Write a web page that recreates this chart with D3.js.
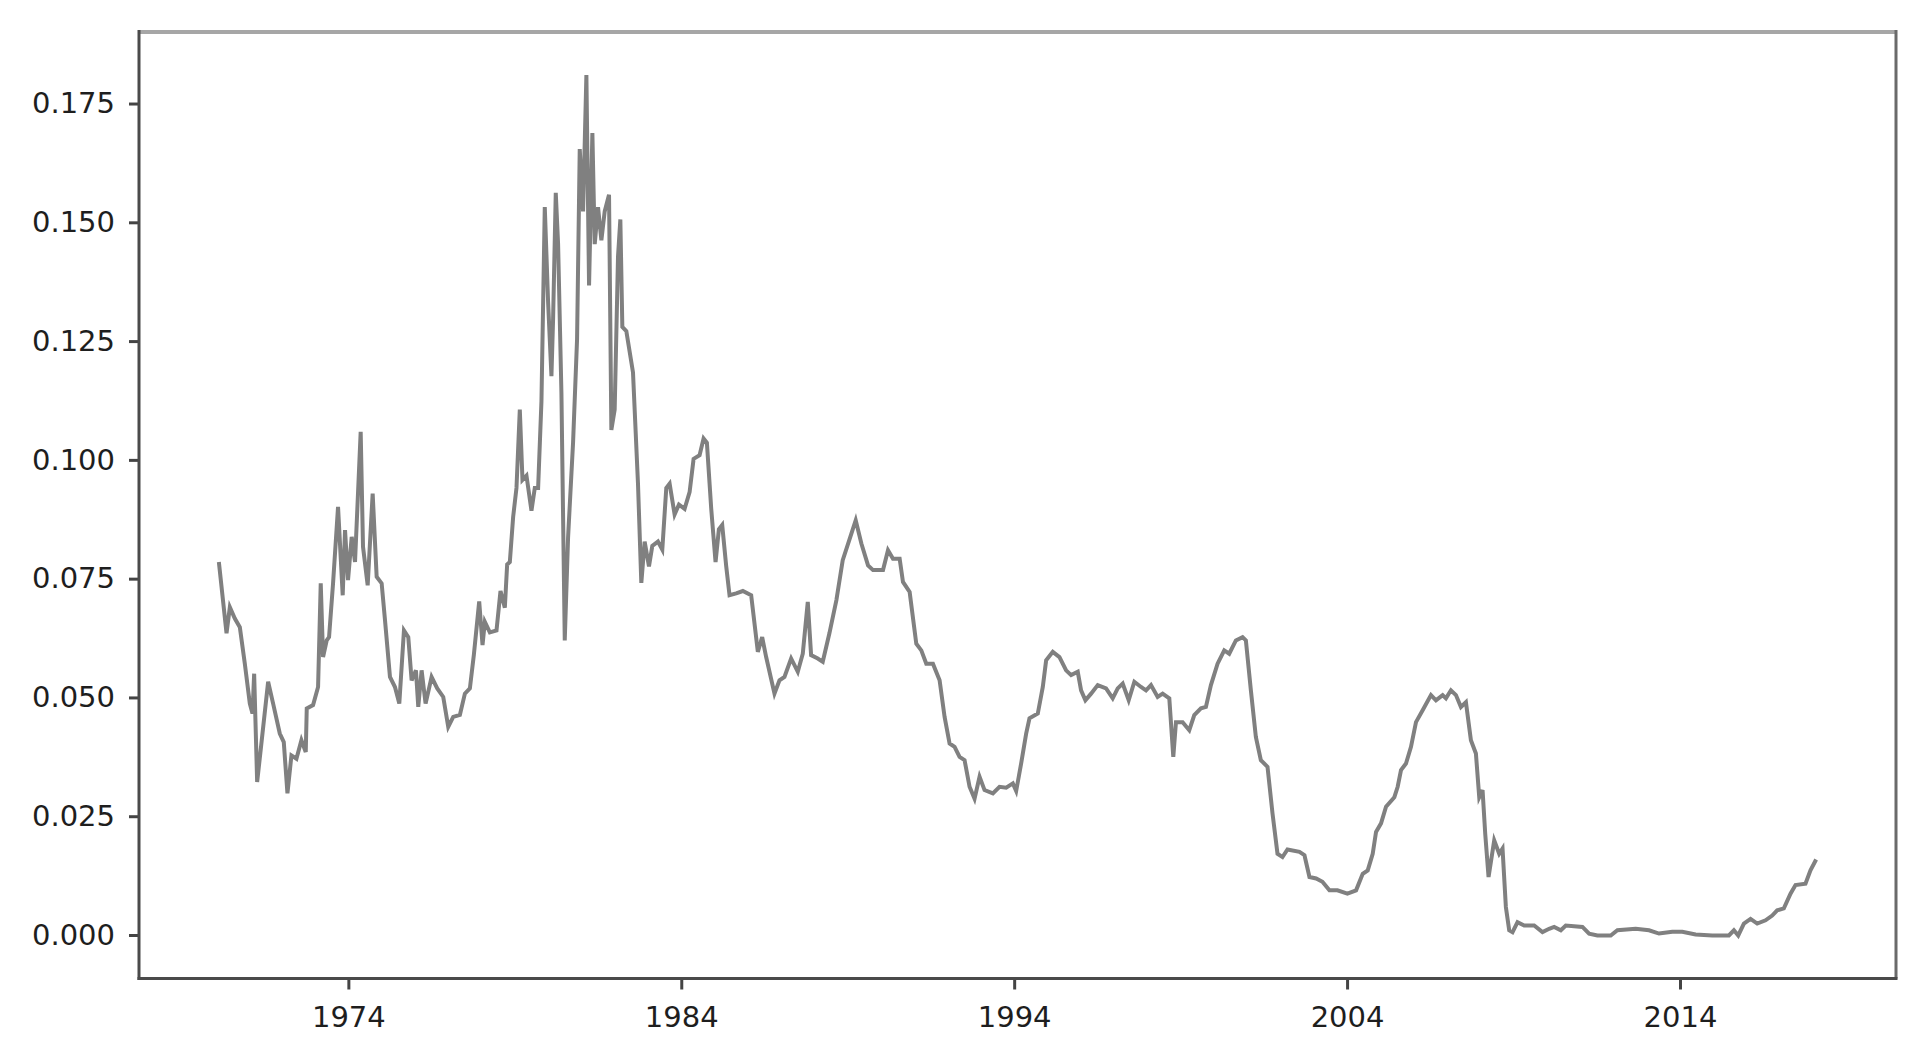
<!DOCTYPE html>
<html lang="en">
<head>
<meta charset="utf-8">
<title>Rate history</title>
<script src="https://d3js.org/d3.v7.min.js"></script>
<style>
    body { margin: 0; background: #fff; }
    svg { display: block; }
    .tick text { font-family: "DejaVu Sans", sans-serif; font-size: 29px; fill: #1e1e1e; }
    .tick line { stroke: #444; stroke-width: 3px; }
    .domain { display: none; }
</style>
</head>
<body>
<svg></svg>
<script>
// decimal year of each reading
var years = [
    1970.11, 1970.34, 1970.44, 1970.59, 1970.74, 1970.89, 1971.04, 1971.12, 1971.17, 1971.26,
    1971.37, 1971.59, 1971.74, 1971.94, 1972.06, 1972.17, 1972.29, 1972.44, 1972.59, 1972.72,
    1972.75, 1972.94, 1973.09, 1973.17, 1973.24, 1973.35, 1973.42, 1973.54, 1973.69, 1973.83,
    1973.90, 1973.99, 1974.10, 1974.20, 1974.37, 1974.44, 1974.58, 1974.73, 1974.85, 1975.00,
    1975.10, 1975.25, 1975.40, 1975.53, 1975.67, 1975.80, 1975.90, 1976.03, 1976.10, 1976.20,
    1976.32, 1976.50, 1976.67, 1976.85, 1977.00, 1977.15, 1977.35, 1977.50, 1977.65, 1977.77,
    1977.93, 1978.03, 1978.10, 1978.25, 1978.45, 1978.57, 1978.70, 1978.77, 1978.85, 1978.95,
    1979.05, 1979.15, 1979.23, 1979.35, 1979.50, 1979.60, 1979.70, 1979.80, 1979.90, 1980.00,
    1980.10, 1980.15, 1980.23, 1980.30, 1980.40, 1980.50, 1980.60, 1980.75, 1980.87, 1980.95,
    1981.05, 1981.15, 1981.23, 1981.33, 1981.40, 1981.50, 1981.60, 1981.70, 1981.83, 1981.90,
    1982.00, 1982.10, 1982.17, 1982.23, 1982.35, 1982.55, 1982.70, 1982.80, 1982.90, 1983.03,
    1983.13, 1983.30, 1983.43, 1983.55, 1983.65, 1983.80, 1983.93, 1984.10, 1984.25, 1984.37,
    1984.55, 1984.67, 1984.77, 1984.90, 1985.03, 1985.13, 1985.23, 1985.35, 1985.45, 1985.65,
    1985.85, 1986.10, 1986.30, 1986.43, 1986.55, 1986.80, 1986.95, 1987.10, 1987.30, 1987.50,
    1987.65, 1987.80, 1987.90, 1988.10, 1988.25, 1988.45, 1988.66, 1988.85, 1989.11, 1989.24,
    1989.41, 1989.61, 1989.76, 1990.06, 1990.21, 1990.36, 1990.56, 1990.66, 1990.86, 1991.06,
    1991.21, 1991.36, 1991.56, 1991.76, 1991.91, 1992.06, 1992.21, 1992.36, 1992.51, 1992.66,
    1992.81, 1992.96, 1993.11, 1993.36, 1993.56, 1993.76, 1993.96, 1994.06, 1994.21, 1994.36,
    1994.46, 1994.71, 1994.86, 1994.96, 1995.16, 1995.36, 1995.56, 1995.71, 1995.91, 1996.01,
    1996.14, 1996.31, 1996.51, 1996.76, 1996.96, 1997.11, 1997.26, 1997.44, 1997.61, 1997.81,
    1997.96, 1998.11, 1998.31, 1998.46, 1998.66, 1998.78, 1998.86, 1999.06, 1999.26, 1999.41,
    1999.61, 1999.76, 1999.91, 2000.11, 2000.31, 2000.46, 2000.66, 2000.86, 2000.96, 2001.11,
    2001.26, 2001.41, 2001.61, 2001.76, 2001.91, 2002.06, 2002.21, 2002.57, 2002.72, 2002.87,
    2003.07, 2003.26, 2003.47, 2003.71, 2004.01, 2004.27, 2004.47, 2004.62, 2004.77, 2004.87,
    2005.02, 2005.17, 2005.42, 2005.52, 2005.62, 2005.77, 2005.92, 2006.07, 2006.27, 2006.52,
    2006.67, 2006.87, 2006.97, 2007.12, 2007.27, 2007.42, 2007.57, 2007.72, 2007.87, 2007.97,
    2008.07, 2008.15, 2008.25, 2008.42, 2008.57, 2008.67, 2008.77, 2008.87, 2008.97, 2009.12,
    2009.32, 2009.62, 2009.87, 2010.07, 2010.22, 2010.42, 2010.57, 2011.07, 2011.27, 2011.52,
    2011.92, 2012.12, 2012.67, 2013.07, 2013.37, 2013.77, 2014.07, 2014.47, 2014.97, 2015.47,
    2015.62, 2015.75, 2015.92, 2016.12, 2016.32, 2016.57, 2016.77, 2016.92, 2017.12, 2017.32,
    2017.47, 2017.77, 2017.92, 2018.09
];
var rates = [
    0.0785, 0.0635, 0.0690, 0.0666, 0.0648, 0.0571, 0.0487, 0.0466, 0.0550, 0.0322,
    0.0392, 0.0533, 0.0487, 0.0424, 0.0406, 0.0298, 0.0378, 0.0371, 0.0410, 0.0385,
    0.0477, 0.0484, 0.0522, 0.0740, 0.0585, 0.0620, 0.0627, 0.0740, 0.0901, 0.0715,
    0.0852, 0.0747, 0.0838, 0.0785, 0.1059, 0.0817, 0.0736, 0.0929, 0.0754, 0.0740,
    0.0663, 0.0543, 0.0522, 0.0487, 0.0641, 0.0627, 0.0536, 0.0557, 0.0480, 0.0557,
    0.0487, 0.0543, 0.0519, 0.0501, 0.0438, 0.0459, 0.0463, 0.0508, 0.0519, 0.0590,
    0.0702, 0.0610, 0.0659, 0.0637, 0.0641, 0.0724, 0.0689, 0.0780, 0.0785, 0.0880,
    0.0941, 0.1106, 0.0958, 0.0967, 0.0893, 0.0941, 0.0941, 0.1123, 0.1532, 0.1332,
    0.1176, 0.1297, 0.1562, 0.1454, 0.1141, 0.0620, 0.0837, 0.1037, 0.1254, 0.1654,
    0.1523, 0.1810, 0.1367, 0.1688, 0.1454, 0.1532, 0.1462, 0.1523, 0.1558, 0.1063,
    0.1106, 0.1428, 0.1506, 0.1280, 0.1271, 0.1184, 0.0950, 0.0741, 0.0828, 0.0776,
    0.0819, 0.0828, 0.0811, 0.0941, 0.0950, 0.0885, 0.0906, 0.0897, 0.0932, 0.1002,
    0.1010, 0.1045, 0.1036, 0.0897, 0.0785, 0.0854, 0.0863, 0.0776, 0.0715, 0.0719,
    0.0724, 0.0715, 0.0596, 0.0627, 0.0585, 0.0508, 0.0536, 0.0543, 0.0582, 0.0554,
    0.0592, 0.0701, 0.0589, 0.0582, 0.0575, 0.0635, 0.0705, 0.0789, 0.0845, 0.0873,
    0.0824, 0.0778, 0.0768, 0.0768, 0.0810, 0.0792, 0.0792, 0.0743, 0.0722, 0.0613,
    0.0599, 0.0571, 0.0571, 0.0536, 0.0459, 0.0403, 0.0396, 0.0375, 0.0368, 0.0312,
    0.0287, 0.0333, 0.0305, 0.0298, 0.0312, 0.0310, 0.0319, 0.0303, 0.0361, 0.0424,
    0.0456, 0.0466, 0.0522, 0.0578, 0.0596, 0.0585, 0.0557, 0.0547, 0.0554, 0.0515,
    0.0494, 0.0508, 0.0526, 0.0519, 0.0498, 0.0519, 0.0529, 0.0494, 0.0533, 0.0522,
    0.0515, 0.0526, 0.0501, 0.0508, 0.0498, 0.0375, 0.0448, 0.0448, 0.0431, 0.0463,
    0.0477, 0.0480, 0.0526, 0.0571, 0.0599, 0.0592, 0.0620, 0.0627, 0.0620, 0.0515,
    0.0417, 0.0368, 0.0354, 0.0256, 0.0171, 0.0164, 0.0180, 0.0175, 0.0168, 0.0122,
    0.0119, 0.0112, 0.0094, 0.0094, 0.0087, 0.0094, 0.0129, 0.0136, 0.0171, 0.0217,
    0.0235, 0.0270, 0.0290, 0.0312, 0.0347, 0.0361, 0.0396, 0.0448, 0.0473, 0.0505,
    0.0494, 0.0505, 0.0498, 0.0515, 0.0505, 0.0480, 0.0490, 0.0410, 0.0382, 0.0290,
    0.0305, 0.0213, 0.0122, 0.0199, 0.0171, 0.0182, 0.0059, 0.0010, 0.0006, 0.0027,
    0.0020, 0.0020, 0.0006, 0.0013, 0.0017, 0.0010, 0.0020, 0.0017, 0.0003, -0.0001,
    -0.0001, 0.0010, 0.0013, 0.0010, 0.0003, 0.0007, 0.0007, 0.0001, -0.0001, -0.0001,
    0.0010, -0.0001, 0.0024, 0.0034, 0.0024, 0.0031, 0.0041, 0.0052, 0.0056, 0.0087,
    0.0105, 0.0108, 0.0136, 0.0159
];
var xTickLabels = [1974, 1984, 1994, 2004, 2014];
var yTickLabels = [0, 0.025, 0.05, 0.075, 0.1, 0.125, 0.15, 0.175];

var data = d3.zip(years, rates);

var width = 1931, height = 1050;
var margin = {top: 32, right: 35, bottom: 71.5, left: 139};

var svg = d3.select("svg").attr("width", width).attr("height", height);

// matplotlib style 5% padding around the data
function padded(ext) {
    var r = ext[1] - ext[0];
    return [ext[0] - 0.05 * r, ext[1] + 0.05 * r];
}

var x = d3.scaleLinear()
    .domain(padded(d3.extent(years)))
    .range([margin.left, width - margin.right]);

var y = d3.scaleLinear()
    .domain(padded(d3.extent(rates)))
    .range([height - margin.bottom, margin.top]);

var line = d3.line()
    .x(d => x(d[0]))
    .y(d => y(d[1]));

svg.append("path")
    .datum(data)
    .attr("fill", "none")
    .attr("stroke", "#808080")
    .attr("stroke-width", 4)
    .attr("stroke-linejoin", "miter")
    .attr("d", line);

var xAxis = svg.append("g")
    .attr("transform", "translate(0," + (height - margin.bottom) + ")")
    .call(d3.axisBottom(x).tickValues(xTickLabels).tickFormat(d3.format("d")).tickSize(11).tickPadding(18));
xAxis.selectAll(".tick text").attr("y", 28).attr("dy", "0.71em");

var yAxis = svg.append("g")
    .attr("transform", "translate(" + margin.left + ",0)")
    .call(d3.axisLeft(y).tickValues(yTickLabels).tickFormat(d3.format(".3f")).tickSize(10).tickPadding(14));

// frame
var x0 = margin.left, x1 = width - margin.right;
var y0 = margin.top, y1 = height - margin.bottom;
svg.append("line").attr("x1", x0).attr("x2", x1).attr("y1", y0).attr("y2", y0)
    .attr("stroke", "#a6a6a6").attr("stroke-width", 4);
svg.append("line").attr("x1", x1).attr("x2", x1).attr("y1", y0 - 2).attr("y2", y1)
    .attr("stroke", "#6a6a6a").attr("stroke-width", 3);
svg.append("line").attr("x1", x0).attr("x2", x0).attr("y1", y0 - 2).attr("y2", y1 + 1.5)
    .attr("stroke", "#4a4a4a").attr("stroke-width", 3);
svg.append("line").attr("x1", x0 - 1.5).attr("x2", x1 + 1.5).attr("y1", y1).attr("y2", y1)
    .attr("stroke", "#4a4a4a").attr("stroke-width", 3);
</script>
</body>
</html>
